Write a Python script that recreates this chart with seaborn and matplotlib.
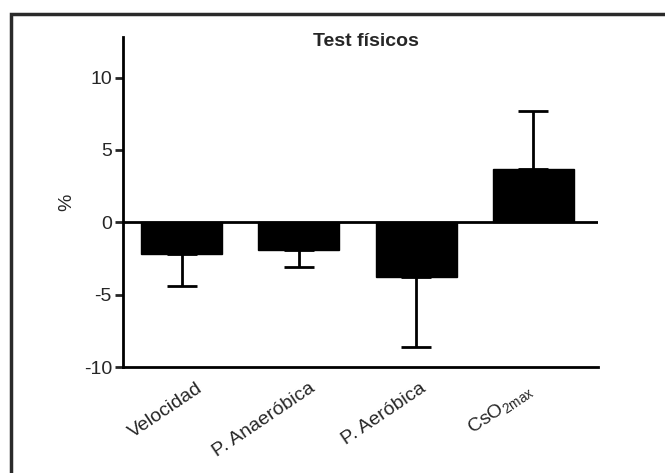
import matplotlib
matplotlib.use("Agg")
import matplotlib.pyplot as plt
import matplotlib.transforms as mtransforms
import seaborn as sns
import numpy as np
import pandas as pd
from matplotlib.patches import Rectangle

categories = ["Velocidad", "P. Anaeróbica", "P. Aeróbica", r"CsO$_{\mathregular{2max}}$"]
values = [-2.2, -1.95, -3.8, 3.65]
errors = [2.2, 1.15, 4.8, 4.05]
yticks = [-10, -5, 0, 5, 10]

sns.set_style("white")
plt.rcParams['font.family'] = ['Liberation Sans', 'DejaVu Sans']
plt.rcParams['mathtext.fontset'] = 'custom'
plt.rcParams['mathtext.rm'] = 'Liberation Sans'
plt.rcParams['mathtext.it'] = 'Liberation Sans'

fig = plt.figure(figsize=(6.65, 4.73), dpi=100)
ax = fig.add_axes([123/665, 1-367/473, (598-123)/665, (367-37)/473])

df = pd.DataFrame({"cat": categories, "val": values})
sns.barplot(data=df, x="cat", y="val", color="black", width=0.69, ax=ax,
            errorbar=None, saturation=1)
for p in ax.patches:
    p.set_edgecolor("black")

vals = np.array(values)
errs = np.array(errors)
lower = np.where(vals < 0, errs, 0)
upper = np.where(vals >= 0, errs, 0)
ax.errorbar(np.arange(len(values)), vals, yerr=[lower, upper], fmt="none",
            ecolor="black", elinewidth=2, capsize=11, capthick=2)

ax.axhline(0, color="black", lw=2, zorder=0)
ax.set_xlim(-0.5, 3.55)
ax.set_ylim(-10, 12.8)
ax.set_yticks(yticks)
ax.set_yticklabels([str(t) for t in yticks], fontsize=14)
ax.tick_params(axis="y", direction="out", length=6, width=2, left=True, pad=2)
ax.tick_params(axis="x", length=0, pad=9)
ax.set_xticks(range(len(categories)))
ax.set_xticklabels(categories, rotation=34, ha="right", rotation_mode="anchor", fontsize=14)
label_dx = [15, 10, 3, -8]
for lab, dx in zip(ax.get_xticklabels(), label_dx):
    shift = mtransforms.ScaledTranslation(dx/100, 0, fig.dpi_scale_trans)
    lab.set_transform(lab.get_transform() + shift)
ax.set_xlabel("")
ax.set_ylabel("%", fontsize=14, labelpad=6)
for s in ["top", "right"]:
    ax.spines[s].set_visible(False)
for s in ["left", "bottom"]:
    ax.spines[s].set_linewidth(2)
    ax.spines[s].set_color("black")

fig.text(366/665, 1-42/473, "Test físicos", ha="center", va="center",
         fontsize=14, fontweight="bold")

fig.patches.append(Rectangle((11/665, -0.1), 1.2, 1-14/473+0.1, transform=fig.transFigure,
                             fill=False, edgecolor="#2a2a2a", lw=2.5))

fig.savefig("out.png", dpi=100)
